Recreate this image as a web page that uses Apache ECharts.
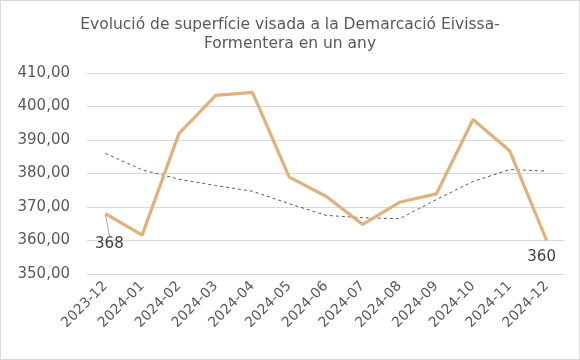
<!DOCTYPE html>
<html><head><meta charset="utf-8">
<script src="https://cdn.jsdelivr.net/npm/echarts@6/dist/echarts.min.js"></script>
<style>html,body{margin:0;padding:0;background:#fff}#c{width:580px;height:360px;box-sizing:border-box;border:1px solid #d9d9d9}</style>
</head><body><div id="c"></div>
<script>
const categories = ['2023-12','2024-01','2024-02','2024-03','2024-04','2024-05','2024-06','2024-07','2024-08','2024-09','2024-10','2024-11','2024-12'];
const superficie = [368.0,361.6,391.9,403.3,404.2,378.9,373.2,364.8,371.4,373.9,396.1,386.7,360.0];
const tendencia = [386.0,381.1,378.3,376.4,374.7,371.0,367.5,366.8,366.5,372.2,377.6,381.2,380.7];
const titleText = 'Evolució de superfície visada a la Demarcació Eivissa-\nFormentera en un any';

const chart = echarts.init(document.getElementById('c'), null, {renderer:'canvas'});
const font = 'DejaVu Sans';
const mainData = superficie.map((v,i)=>{
  if(i===0) return {value:v,label:{show:true},labelLine:{show:true,lineStyle:{color:'#a6a6a6',width:1}}};
  if(i===superficie.length-1) return {value:v,label:{show:true}};
  return v;
});
chart.setOption({
  animation:false,
  title:{text:titleText,left:'center',top:9,textStyle:{fontFamily:font,fontSize:15.5,fontWeight:'normal',color:'#595959',lineHeight:19.5}},
  grid:{left:86,right:14,top:72,bottom:85},
  xAxis:{type:'category',data:categories,boundaryGap:true,
    axisLine:{show:false},axisTick:{show:false},
    axisLabel:{rotate:45,fontFamily:font,fontSize:14,color:'#595959',margin:10,interval:0}},
  yAxis:{type:'value',min:350,max:410,interval:10,
    axisLabel:{formatter:(v)=>v.toFixed(2).replace('.',','),fontFamily:font,fontSize:15,color:'#595959',margin:17},
    splitLine:{lineStyle:{color:'#d9d9d9',width:1}}},
  series:[
    {type:'line',data:tendencia,symbol:'none',smooth:false,
      lineStyle:{color:'#595959',width:1,type:[3,3]},z:2},
    {type:'line',data:mainData,symbol:'circle',symbolSize:1,showSymbol:true,
      itemStyle:{color:'rgba(0,0,0,0)'},
      lineStyle:{color:'#dfb27c',width:3.2},z:3,
      label:{show:false,position:'bottom',distance:5,formatter:(p)=>Math.round(p.value),fontFamily:font,fontSize:15,color:'#404040'},
      labelLayout:(p)=>{ if(p.dataIndex===0) return {dx:4,dy:17}; return {dx:-5,dy:4}; }
    }
  ]
});
</script></body></html>
